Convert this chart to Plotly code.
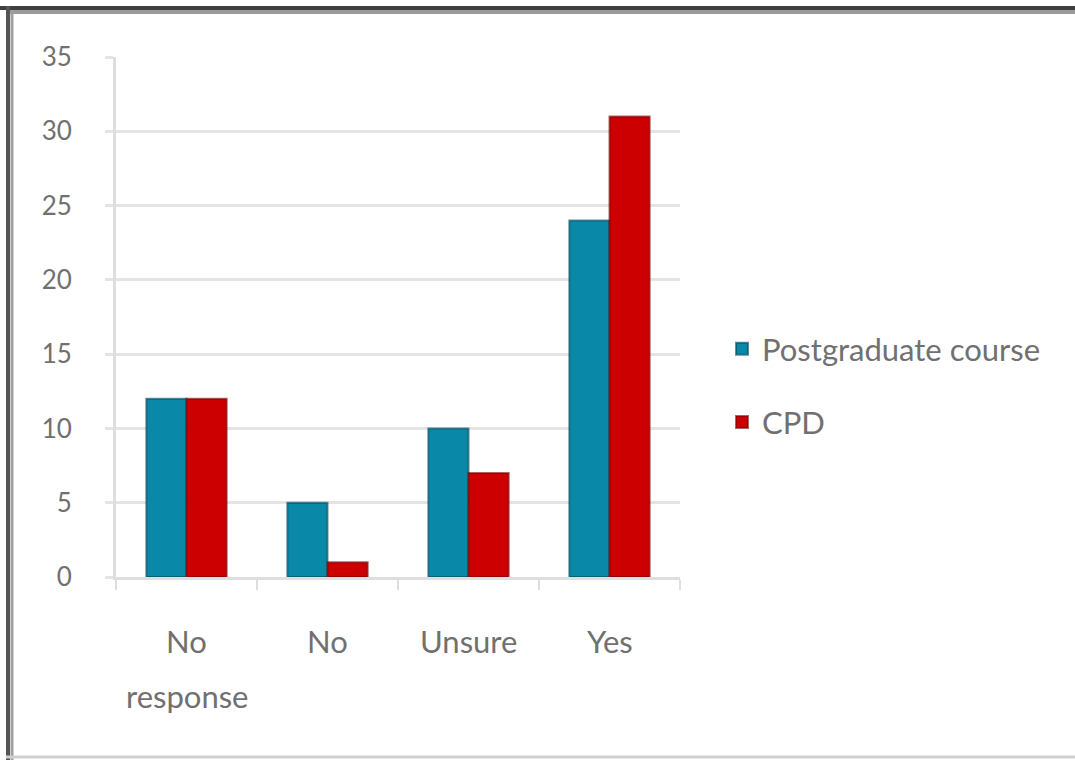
import plotly.graph_objects as go

categories = ["No response", "No", "Unsure", "Yes"]
label_lines = [["No", "response"], ["No"], ["Unsure"], ["Yes"]]
postgraduate = [12, 5, 10, 24]
cpd = [12, 1, 7, 31]
y_ticks = [0, 5, 10, 15, 20, 25, 30, 35]

W, H = 1075, 760
L, R, T, B = 116, 395, 57, 183
pw, ph = W - L - R, H - T - B

def px(x):
    return (x - L) / pw

def py(y):
    return (H - B - y) / ph

font_family = "Lato, 'Open Sans', sans-serif"
text_col = "#707070"

fig = go.Figure()
fig.add_trace(go.Bar(
    x=categories, y=postgraduate, name="Postgraduate course",
    legendgroup="a",
    marker=dict(color="#0a88a8", line=dict(color="rgba(0,70,90,0.6)", width=2)),
))
fig.add_trace(go.Bar(
    x=categories, y=cpd, name="CPD",
    legendgroup="b",
    marker=dict(color="#cc0000", line=dict(color="rgba(120,0,0,0.6)", width=2)),
))

# category labels, one annotation per line
line_y = [641, 696]
for cat, lines in zip(categories, label_lines):
    for i, txt in enumerate(lines):
        fig.add_annotation(x=cat, xref="x", y=py(line_y[i]), yref="paper",
                           text=txt, showarrow=False, xanchor="center", yanchor="middle",
                           font=dict(size=31, color=text_col, family=font_family))

shapes = [
    dict(type="line", xref="paper", yref="paper", x0=px(0), x1=px(W), y0=py(8), y1=py(8),
         line=dict(color="#404040", width=4)),
    dict(type="line", xref="paper", yref="paper", x0=px(10), x1=px(W), y0=py(12), y1=py(12),
         line=dict(color="#9a9a9a", width=4)),
    dict(type="line", xref="paper", yref="paper", x0=px(8), x1=px(8), y0=py(6), y1=py(H),
         line=dict(color="#555555", width=4)),
    dict(type="line", xref="paper", yref="paper", x0=px(12), x1=px(12), y0=py(10), y1=py(H),
         line=dict(color="#a0a0a0", width=3)),
    dict(type="line", xref="paper", yref="paper", x0=px(6), x1=px(W), y0=py(757), y1=py(757),
         line=dict(color="#cfcfcf", width=3)),
]

fig.update_layout(
    width=W, height=H,
    margin=dict(l=L, r=R, t=T, b=B, pad=0),
    paper_bgcolor="white", plot_bgcolor="white",
    barmode="group", bargap=0.43, bargroupgap=0,
    font=dict(family=font_family, color=text_col, size=27),
    showlegend=True,
    legend=dict(x=px(722), y=py(322), xanchor="left", yanchor="top",
                font=dict(size=31, color=text_col), tracegroupgap=30,
                traceorder="grouped", itemwidth=30, bgcolor="rgba(0,0,0,0)"),
    shapes=shapes,
    xaxis=dict(
        showline=True, linecolor="#dedede", linewidth=3,
        ticks="outside", ticklen=10, tickcolor="#dedede", tickwidth=2,
        tickson="boundaries", showgrid=False, showticklabels=False,
    ),
    yaxis=dict(
        range=[0, 35], tickvals=y_ticks, ticktext=[str(v) for v in y_ticks],
        showline=True, linecolor="#dedede", linewidth=3,
        showgrid=True, gridcolor="#e4e4e4", gridwidth=3,
        ticks="outside", ticklen=8, tickcolor="#e4e4e4", tickwidth=3,
        tickfont=dict(size=26, color=text_col), ticklabelstandoff=28,
        zeroline=False,
    ),
)

fig.write_html("out.html")
